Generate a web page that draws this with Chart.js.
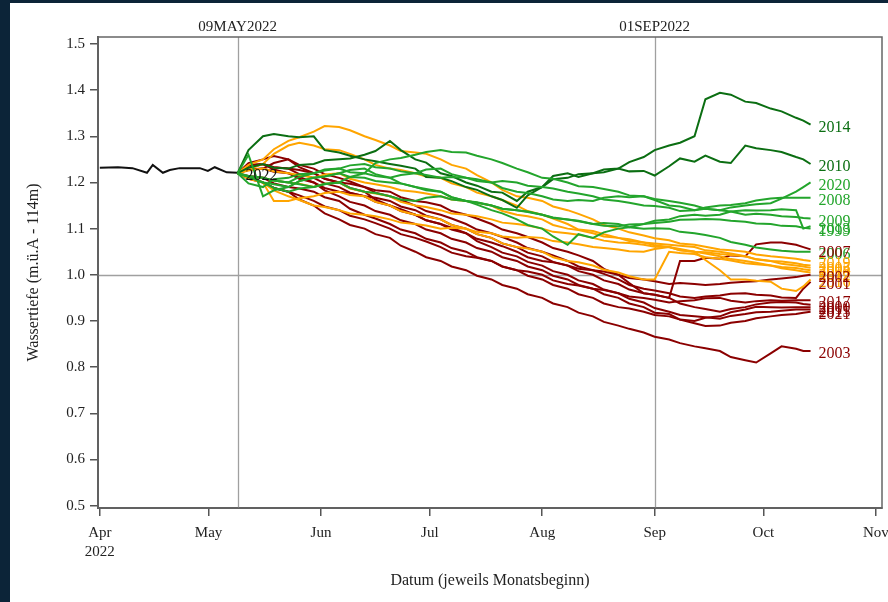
<!DOCTYPE html>
<html>
<head>
<meta charset="utf-8">
<script src="https://cdn.jsdelivr.net/npm/chart.js@4/dist/chart.umd.min.js"></script>
<style>
  html, body { margin: 0; padding: 0; background: #0c2438; width: 888px; height: 602px; overflow: hidden; }
  #wrap { position: absolute; left: 10px; top: 3px; width: 878px; height: 599px; background: #fff; }
</style>
</head>
<body>
<div id="wrap"><canvas id="chart"></canvas></div>
<script>
// x values are days since 01APR2022
const monthTicks = [0, 30, 61, 91, 122, 153, 183, 214];
const monthLabels = ['Apr', 'May', 'Jun', 'Jul', 'Aug', 'Sep', 'Oct', 'Nov'];
const yTicks = [0.5, 0.6, 0.7, 0.8, 0.9, 1.0, 1.1, 1.2, 1.3, 1.4, 1.5];

const refDays = [38, 153];
const refLabels = ['09MAY2022', '01SEP2022'];
const refLevels = [1.0];

// current year
const days2022 = [0, 5, 9, 13, 14.6, 17.4, 19.3, 22, 27.6, 29.8, 31.7, 35, 38];
const vals2022 = [1.232, 1.233, 1.231, 1.221, 1.238, 1.221, 1.227, 1.231, 1.231, 1.225, 1.233, 1.222, 1.221];

// historical years, shifted to start at 09MAY
const histDays = [38, 41, 45, 48, 52, 55, 59, 62, 66, 69, 73, 76, 80, 83, 87, 90, 94, 97, 101, 104, 108, 111, 115, 118,
                  122, 125, 129, 132, 136, 139, 143, 146, 150, 153, 157, 160, 164, 167, 171, 174, 178, 181, 185, 188, 192, 194, 196];

const v2014 = [1.22,1.27,1.30,1.305,1.30,1.298,1.30,1.27,1.265,1.258,1.25,1.246,1.24,1.236,1.23,1.212,1.21,1.203,1.19,1.184,1.17,1.162,1.145,1.172,1.19,1.214,1.22,1.212,1.22,1.228,1.23,1.244,1.255,1.27,1.28,1.286,1.30,1.38,1.394,1.39,1.375,1.372,1.36,1.354,1.34,1.334,1.325];
const v2010 = [1.22,1.232,1.24,1.232,1.23,1.238,1.24,1.248,1.25,1.252,1.26,1.268,1.29,1.27,1.25,1.243,1.22,1.214,1.20,1.193,1.18,1.178,1.16,1.18,1.19,1.207,1.21,1.218,1.22,1.222,1.23,1.224,1.225,1.215,1.235,1.252,1.245,1.258,1.245,1.242,1.28,1.274,1.27,1.266,1.255,1.25,1.24];
const v2020 = [1.22,1.198,1.19,1.207,1.21,1.218,1.22,1.228,1.23,1.222,1.22,1.242,1.25,1.253,1.26,1.266,1.27,1.266,1.265,1.258,1.25,1.242,1.23,1.222,1.21,1.208,1.20,1.192,1.19,1.186,1.18,1.172,1.17,1.162,1.15,1.148,1.14,1.143,1.14,1.146,1.15,1.153,1.155,1.165,1.18,1.19,1.20];
const v2008 = [1.22,1.213,1.21,1.204,1.20,1.212,1.22,1.226,1.23,1.237,1.24,1.233,1.23,1.224,1.22,1.216,1.21,1.212,1.21,1.203,1.20,1.203,1.20,1.193,1.19,1.187,1.18,1.176,1.17,1.163,1.16,1.156,1.15,1.149,1.145,1.138,1.14,1.146,1.15,1.151,1.155,1.161,1.165,1.167,1.167,1.167,1.167];
const v2013 = [1.22,1.26,1.17,1.183,1.19,1.203,1.21,1.213,1.22,1.212,1.21,1.203,1.20,1.198,1.19,1.183,1.18,1.168,1.16,1.152,1.14,1.133,1.12,1.108,1.10,1.083,1.065,1.088,1.08,1.092,1.10,1.103,1.11,1.117,1.12,1.127,1.13,1.128,1.13,1.137,1.14,1.139,1.14,1.142,1.14,1.10,1.105];
const v2009 = [1.22,1.212,1.20,1.196,1.19,1.203,1.21,1.213,1.22,1.227,1.23,1.218,1.21,1.216,1.22,1.228,1.23,1.218,1.21,1.207,1.20,1.188,1.18,1.177,1.17,1.163,1.16,1.162,1.16,1.167,1.17,1.168,1.17,1.164,1.16,1.156,1.15,1.143,1.14,1.137,1.13,1.132,1.13,1.127,1.125,1.123,1.122];
const v1999 = [1.22,1.214,1.21,1.204,1.20,1.196,1.19,1.197,1.20,1.188,1.18,1.177,1.17,1.163,1.16,1.167,1.17,1.163,1.16,1.157,1.15,1.143,1.14,1.137,1.13,1.124,1.12,1.117,1.11,1.106,1.105,1.109,1.11,1.112,1.115,1.119,1.12,1.121,1.12,1.117,1.115,1.111,1.11,1.106,1.105,1.102,1.10];
const v2006 = [1.22,1.212,1.20,1.188,1.18,1.187,1.19,1.196,1.20,1.212,1.22,1.214,1.21,1.198,1.19,1.186,1.18,1.168,1.16,1.156,1.15,1.143,1.14,1.136,1.13,1.123,1.12,1.116,1.11,1.112,1.11,1.103,1.10,1.101,1.10,1.093,1.09,1.086,1.08,1.071,1.065,1.059,1.055,1.052,1.05,1.05,1.05];

const v2019 = [1.22,1.238,1.25,1.272,1.29,1.298,1.31,1.322,1.32,1.313,1.30,1.292,1.28,1.268,1.265,1.262,1.25,1.238,1.23,1.216,1.20,1.184,1.17,1.167,1.16,1.148,1.14,1.132,1.12,1.108,1.10,1.092,1.085,1.079,1.075,1.068,1.065,1.061,1.055,1.053,1.05,1.044,1.04,1.038,1.035,1.032,1.03];
const v2005 = [1.22,1.228,1.24,1.262,1.28,1.286,1.28,1.272,1.27,1.262,1.25,1.238,1.23,1.227,1.22,1.213,1.21,1.198,1.19,1.178,1.17,1.162,1.15,1.138,1.13,1.122,1.11,1.098,1.095,1.088,1.08,1.077,1.07,1.064,1.06,1.056,1.05,1.049,1.045,1.043,1.04,1.034,1.03,1.029,1.025,1.022,1.02];
const v2016 = [1.22,1.213,1.21,1.204,1.20,1.197,1.19,1.197,1.20,1.187,1.18,1.176,1.17,1.158,1.15,1.147,1.14,1.133,1.13,1.127,1.12,1.113,1.11,1.107,1.10,1.093,1.09,1.087,1.08,1.074,1.07,1.069,1.065,1.061,1.06,1.053,1.05,1.032,1.01,0.99,0.99,0.987,0.985,0.97,0.965,0.975,0.99];
const v2018 = [1.22,1.212,1.20,1.16,1.16,1.166,1.17,1.177,1.18,1.173,1.17,1.158,1.15,1.138,1.13,1.127,1.12,1.108,1.10,1.088,1.08,1.068,1.06,1.057,1.05,1.038,1.03,1.027,1.02,1.011,1.005,0.997,0.99,0.99,1.05,1.047,1.045,1.038,1.035,1.031,1.025,1.023,1.02,1.017,1.015,1.012,1.01];
const v2004 = [1.22,1.226,1.23,1.224,1.22,1.216,1.21,1.217,1.22,1.208,1.20,1.196,1.19,1.183,1.18,1.176,1.17,1.163,1.16,1.156,1.15,1.138,1.13,1.127,1.12,1.108,1.10,1.097,1.09,1.083,1.08,1.073,1.07,1.068,1.065,1.063,1.06,1.053,1.05,1.046,1.04,1.033,1.03,1.024,1.02,1.018,1.015];
const v2012 = [1.22,1.208,1.20,1.183,1.17,1.162,1.15,1.147,1.14,1.133,1.13,1.127,1.12,1.113,1.11,1.107,1.10,1.102,1.10,1.093,1.09,1.083,1.08,1.082,1.08,1.073,1.07,1.066,1.06,1.058,1.055,1.051,1.05,1.056,1.06,1.053,1.05,1.046,1.04,1.034,1.03,1.026,1.02,1.014,1.01,1.007,1.005];

const v2007 = [1.22,1.237,1.24,1.233,1.23,1.227,1.22,1.208,1.20,1.197,1.19,1.183,1.18,1.168,1.16,1.157,1.15,1.138,1.13,1.122,1.11,1.098,1.09,1.082,1.07,1.058,1.05,1.042,1.03,1.013,1.00,0.982,0.96,0.957,0.95,1.03,1.03,1.037,1.035,1.042,1.04,1.066,1.07,1.07,1.065,1.06,1.055];
const v2002 = [1.22,1.238,1.24,1.228,1.22,1.212,1.20,1.188,1.18,1.177,1.17,1.158,1.15,1.142,1.13,1.118,1.11,1.102,1.09,1.078,1.07,1.062,1.05,1.038,1.03,1.027,1.02,1.013,1.01,1.007,1.00,0.993,0.99,0.986,0.98,0.982,0.98,0.978,0.98,0.983,0.985,0.986,0.99,0.992,0.995,0.998,1.00];
const v2001 = [1.22,1.227,1.23,1.242,1.25,1.238,1.23,1.218,1.21,1.202,1.19,1.178,1.17,1.162,1.15,1.138,1.13,1.122,1.11,1.098,1.09,1.082,1.07,1.058,1.05,1.042,1.03,1.018,1.01,1.002,0.99,0.978,0.97,0.966,0.96,0.953,0.95,0.953,0.955,0.959,0.96,0.957,0.955,0.951,0.95,0.97,0.985];
const v2017 = [1.22,1.208,1.20,1.188,1.18,1.172,1.16,1.148,1.14,1.128,1.12,1.112,1.10,1.088,1.08,1.072,1.06,1.048,1.04,1.037,1.03,1.018,1.01,1.007,1.00,0.988,0.98,0.977,0.97,0.967,0.96,0.953,0.95,0.946,0.94,0.943,0.945,0.949,0.95,0.944,0.94,0.943,0.945,0.944,0.945,0.945,0.945];
const v2000 = [1.22,1.232,1.24,1.233,1.23,1.218,1.21,1.198,1.19,1.178,1.17,1.167,1.16,1.148,1.14,1.128,1.12,1.108,1.10,1.088,1.08,1.068,1.06,1.048,1.04,1.028,1.02,1.008,1.00,0.988,0.98,0.968,0.96,0.957,0.95,0.938,0.93,0.926,0.92,0.926,0.93,0.936,0.94,0.941,0.94,0.937,0.935];
const v2011 = [1.22,1.214,1.21,1.198,1.19,1.187,1.18,1.168,1.16,1.143,1.13,1.122,1.11,1.098,1.09,1.078,1.07,1.058,1.05,1.038,1.03,1.018,1.01,0.998,0.99,0.978,0.97,0.958,0.95,0.938,0.93,0.927,0.92,0.913,0.91,0.903,0.90,0.907,0.91,0.919,0.925,0.931,0.93,0.929,0.93,0.93,0.93];
const v2015 = [1.22,1.242,1.25,1.257,1.25,1.233,1.22,1.208,1.20,1.188,1.18,1.163,1.15,1.138,1.13,1.118,1.11,1.098,1.09,1.073,1.06,1.048,1.04,1.028,1.02,1.008,1.00,0.988,0.98,0.968,0.96,0.948,0.94,0.928,0.92,0.913,0.91,0.908,0.905,0.911,0.915,0.919,0.92,0.922,0.925,0.925,0.925];
const v2021 = [1.22,1.228,1.23,1.223,1.22,1.208,1.20,1.183,1.17,1.158,1.15,1.138,1.13,1.118,1.11,1.098,1.09,1.078,1.07,1.058,1.05,1.038,1.03,1.018,1.01,0.998,0.99,0.978,0.97,0.958,0.95,0.938,0.93,0.918,0.915,0.903,0.895,0.889,0.89,0.896,0.90,0.906,0.91,0.913,0.915,0.918,0.92];
const v2003 = [1.22,1.212,1.20,1.188,1.18,1.163,1.15,1.133,1.12,1.108,1.10,1.088,1.08,1.063,1.05,1.038,1.03,1.018,1.01,0.998,0.99,0.978,0.97,0.958,0.95,0.938,0.93,0.918,0.91,0.898,0.89,0.883,0.875,0.866,0.86,0.852,0.845,0.841,0.835,0.822,0.815,0.81,0.83,0.845,0.84,0.835,0.835];

const histYears = ['1999', '2006', '2009', '2013', '2008', '2020', '2010', '2014',
                   '2012', '2004', '2018', '2016', '2005', '2019',
                   '2003', '2021', '2015', '2011', '2000', '2017', '2001', '2002', '2007'];
const histValues = [v1999, v2006, v2009, v2013, v2008, v2020, v2010, v2014,
                    v2012, v2004, v2018, v2016, v2005, v2019,
                    v2003, v2021, v2015, v2011, v2000, v2017, v2001, v2002, v2007];

const darkGreen = '#0b6e12';
const green = '#23a52c';
const orange = '#ffa500';
const darkRed = '#8b0000';
const yearColor = {
  '2014': darkGreen, '2010': darkGreen,
  '2020': green, '2008': green, '2013': green, '2009': green, '1999': green, '2006': green,
  '2019': orange, '2005': orange, '2016': orange, '2018': orange, '2004': orange, '2012': orange
};

const serif = 'Liberation Serif, Times New Roman, serif';

const datasets = histYears.map((yr, k) => ({
  label: yr,
  data: histDays.map((d, i) => ({ x: d, y: histValues[k][i] })),
  borderColor: yearColor[yr] || darkRed,
  borderWidth: 2,
  pointRadius: 0,
  tension: 0
}));
datasets.push({
  label: '2022',
  data: days2022.map((d, i) => ({ x: d, y: vals2022[i] })),
  borderColor: '#111',
  borderWidth: 2,
  pointRadius: 0,
  tension: 0
});

const refPlugin = {
  id: 'refs',
  beforeDatasetsDraw(chart) {
    const { ctx, chartArea: a, scales: { x, y } } = chart;
    ctx.save();
    ctx.strokeStyle = '#a0a0a0';
    ctx.lineWidth = 1.3;
    refDays.forEach(d => {
      const px = Math.round(x.getPixelForValue(d)) + 0.5;
      ctx.beginPath(); ctx.moveTo(px, a.top); ctx.lineTo(px, a.bottom); ctx.stroke();
    });
    refLevels.forEach(v => {
      const py = Math.round(y.getPixelForValue(v)) + 0.5;
      ctx.beginPath(); ctx.moveTo(a.left, py); ctx.lineTo(a.right, py); ctx.stroke();
    });
    ctx.fillStyle = '#222';
    ctx.font = '15px ' + serif;
    ctx.textAlign = 'center';
    ctx.textBaseline = 'middle';
    refDays.forEach((d, i) => ctx.fillText(refLabels[i], x.getPixelForValue(d), a.top - 10));
    ctx.restore();
  },
  afterDatasetsDraw(chart) {
    const { ctx, chartArea: a } = chart;
    ctx.save();
    ctx.strokeStyle = '#666';
    ctx.lineWidth = 1.5;
    ctx.strokeRect(a.left, a.top, a.right - a.left, a.bottom - a.top);
    ctx.font = '16px ' + serif;
    ctx.textAlign = 'left';
    ctx.textBaseline = 'middle';
    chart.data.datasets.forEach((ds, i) => {
      const pts = chart.getDatasetMeta(i).data;
      const last = pts[pts.length - 1];
      ctx.fillStyle = ds.borderColor;
      ctx.fillText(ds.label, last.x + 8, last.y + 3);
    });
    ctx.restore();
  }
};

new Chart(document.getElementById('chart'), {
  type: 'line',
  data: { datasets },
  options: {
    responsive: true,
    maintainAspectRatio: false,
    animation: false,
    layout: { padding: { left: 0, top: 34, right: 6, bottom: 0 } },
    plugins: { legend: { display: false }, tooltip: { enabled: false } },
    scales: {
      x: {
        type: 'linear',
        min: -0.5,
        max: 215.7,
        afterBuildTicks: axis => { axis.ticks = monthTicks.map(v => ({ value: v })); },
        afterFit: s => { s.height = 94; s.paddingLeft = 0; s.paddingRight = 0; },
        ticks: {
          autoSkip: false,
          maxRotation: 0,
          padding: 7,
          color: '#222',
          font: { family: serif, size: 15, lineHeight: 1.3 },
          callback: v => {
            const i = monthTicks.indexOf(v);
            return i === 0 ? [monthLabels[i], '2022'] : monthLabels[i];
          }
        },
        grid: { drawOnChartArea: false, drawTicks: true, tickLength: 8, color: '#555', lineWidth: 1.5 },
        border: { display: true, color: '#555', width: 2 },
        title: {
          display: true,
          text: 'Datum (jeweils Monatsbeginn)',
          color: '#222',
          font: { family: serif, size: 16 },
          padding: { top: 12, bottom: 12 }
        }
      },
      y: {
        min: 0.495,
        max: 1.515,
        afterBuildTicks: axis => { axis.ticks = yTicks.map(v => ({ value: v })); },
        afterFit: s => { s.width = 88; s.paddingTop = 0; s.paddingBottom = 0; },
        ticks: {
          padding: 5,
          color: '#222',
          font: { family: serif, size: 15 },
          callback: v => v.toFixed(1)
        },
        grid: { drawOnChartArea: false, drawTicks: true, tickLength: 8, color: '#555', lineWidth: 1.5 },
        border: { display: true, color: '#555', width: 2 },
        title: {
          display: true,
          text: 'Wassertiefe (m.ü.A - 114m)',
          color: '#222',
          font: { family: serif, size: 16 },
          padding: { top: 14, bottom: 14 }
        }
      }
    }
  },
  plugins: [refPlugin]
});
</script>
</body>
</html>
